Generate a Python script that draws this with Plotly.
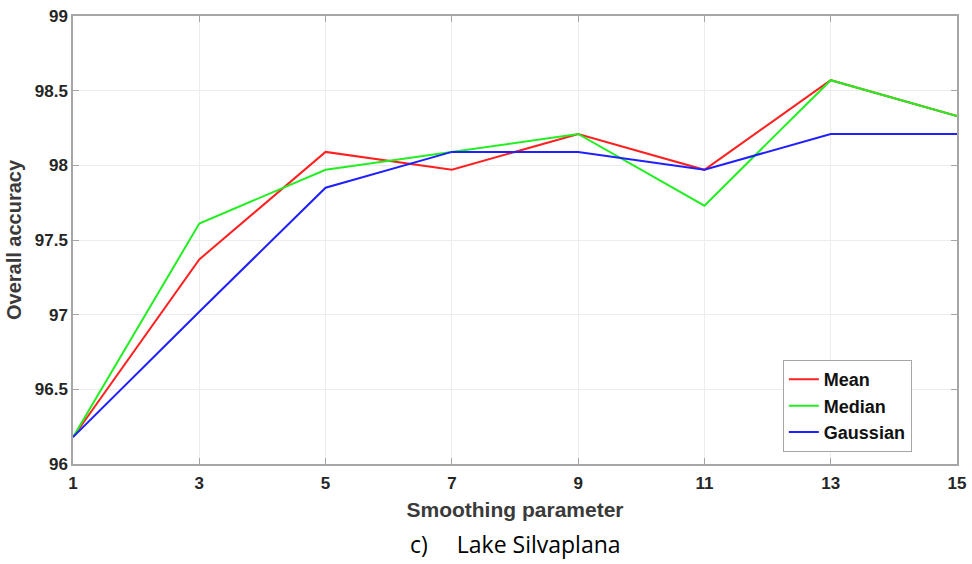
import plotly.graph_objects as go

# Smoothing window sizes and overall accuracy (%) for each filter
smoothing = [1, 3, 5, 7, 9, 11, 13, 15]
mean_acc = [96.18, 97.37, 98.09, 97.97, 98.21, 97.97, 98.57, 98.33]
median_acc = [96.18, 97.61, 97.97, 98.09, 98.21, 97.73, 98.57, 98.33]
gaussian_acc = [96.18, 97.02, 97.85, 98.09, 98.09, 97.97, 98.21, 98.21]

y_ticks = [96, 96.5, 97, 97.5, 98, 98.5, 99]
x_ticks = smoothing

series = [
    ("Mean", mean_acc, "#ff2020"),
    ("Median", median_acc, "#22ee22"),
    ("Gaussian", gaussian_acc, "#1f1fff"),
]

fig = go.Figure()
for name, vals, color in series:
    fig.add_trace(go.Scatter(
        x=smoothing, y=vals, mode="lines", name=name,
        line=dict(color=color, width=2),
    ))

font_fam = "Liberation Sans, Arial, sans-serif"
axis_common = dict(
    showline=True, linecolor="#a6a6a6", linewidth=1.5, mirror="ticks",
    ticks="inside", ticklen=6, tickcolor="#a6a6a6", tickwidth=1,
    showgrid=True, gridcolor="#ececec", gridwidth=1,
    zeroline=False, automargin=False,
    tickfont=dict(family=font_fam, size=17, color="#262626", weight="bold"),
)

fig.update_layout(
    width=972, height=564,
    margin=dict(l=73, r=15, t=16, b=100),
    paper_bgcolor="white", plot_bgcolor="white",
    xaxis=dict(
        range=[1, 15], tickvals=x_ticks, ticktext=[str(v) for v in x_ticks],
        ticklabelstandoff=3,
        title=dict(text="Smoothing parameter", standoff=10,
                   font=dict(family=font_fam, size=21, color="#3a3a3a", weight="bold")),
        **axis_common,
    ),
    yaxis=dict(
        range=[96, 99], tickvals=y_ticks, ticktext=[f"{v:g}" for v in y_ticks],
        title=dict(text="Overall accuracy", standoff=8,
                   font=dict(family=font_fam, size=20, color="#3a3a3a", weight="bold")),
        **axis_common,
    ),
    legend=dict(
        x=0.803, y=0.232, xanchor="left", yanchor="top",
        bgcolor="white", bordercolor="#a6a6a6", borderwidth=1,
        font=dict(family=font_fam, size=18, color="#111111", weight="bold"),
        tracegroupgap=0, itemwidth=30,
    ),
    showlegend=True,
)

fig.add_annotation(
    text="c)\u2003 Lake Silvaplana", xref="paper", yref="paper",
    x=0.5, y=-0.178, xanchor="center", yanchor="middle", showarrow=False,
    font=dict(family="Open Sans, Lato, sans-serif", size=23, color="#000000"),
)

fig.write_html("out.html")
